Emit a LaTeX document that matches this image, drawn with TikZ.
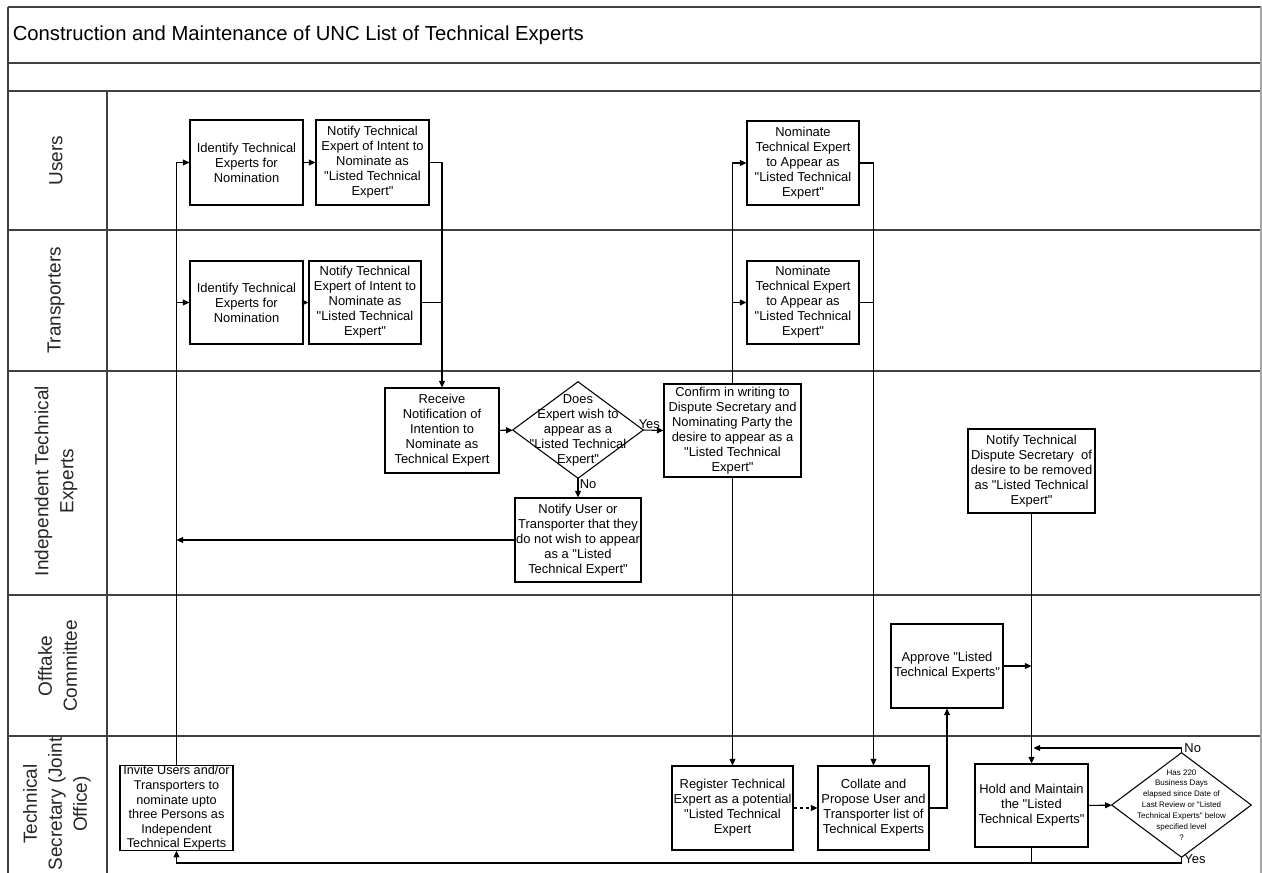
\documentclass[tikz,border=0pt]{standalone}
\usepackage{fontspec}
\setmainfont{Liberation Sans}[Ligatures=TeXOff]
\usetikzlibrary{arrows.meta,calc}
\begin{document}
\begin{tikzpicture}[x=0.75pt,y=-0.75pt,
  lane/.style={draw=black!75, line width=1.1pt},
  box/.style={draw=black, line width=0.8pt, fill=white, inner sep=0pt, align=center,
    font=\fontsize{9.7}{11.25}\selectfont},
  dnode/.style={inner sep=0pt, align=center, font=\fontsize{9.7}{11.25}\selectfont},
  dnodesmall/.style={inner sep=0pt, align=center, font=\fontsize{6}{8.2}\selectfont},
  conn/.style={draw=black, line width=0.8pt},
  arr/.style={conn, -{Triangle[length=5pt,width=4.5pt]}},
  lbl/.style={inner sep=1pt, font=\fontsize{9.7}{11.25}\selectfont},
  lanelabel/.style={rotate=90, align=center, inner sep=0pt, text=black!85,
    font=\fontsize{14.25}{18.75}\selectfont},
  sz/.style 2 args={minimum width=#1*0.75pt, minimum height=#2*0.75pt}
]
\useasboundingbox (0,0) rectangle (1262,873);
\fill[white] (0,0) rectangle (1262,873);

% frame and lanes
\draw[lane] (8,7) -- (1261,7);
\draw[lane] (8,63) -- (1261,63);
\draw[lane] (8,91) -- (1261,91);
\draw[lane] (8,230) -- (1261,230);
\draw[lane] (8,371) -- (1261,371);
\draw[lane] (8,595) -- (1261,595);
\draw[lane] (8,736) -- (1261,736);
\draw[lane] (8,7) -- (8,873);
\draw[lane] (107,91) -- (107,873);
\draw[draw=black!35, line width=1pt] (1261,7) -- (1261,873);

\node[anchor=west, inner sep=0pt, font=\fontsize{15.2}{18}\selectfont] (title) at (12.5,35)
  {Construction and Maintenance of UNC List of Technical Experts};

\node[lanelabel] (lUsers) at (56,160.5) {Users};
\node[lanelabel] (lTrans) at (56,300.5) {Transporters};
\node[lanelabel] (lITE) at (56,481) {Independent Technical\\Experts};
\node[lanelabel] (lOff) at (57.5,666) {Offtake\\Committee};
\node[lanelabel] (lTS) at (57,804) {Technical\\Secretary (Joint\\Office)};

% boxes
\node[box, sz={113}{85}] (U1) at (246.5,162.5) {Identify Technical\\Experts for\\Nomination};
\node[box, sz={113}{85}] (U2) at (372.5,162.5) {Notify Technical\\Expert of Intent to\\Nominate as\\"Listed Technical\\Expert"};
\node[box, sz={113}{83}] (T1) at (246.5,302.5) {Identify Technical\\Experts for\\Nomination};
\node[box, sz={112}{83}] (T2) at (365,302.5) {Notify Technical\\Expert of Intent to\\Nominate as\\"Listed Technical\\Expert"};
\node[box, sz={112}{84}] (NU) at (803,163) {Nominate\\Technical Expert\\to Appear as\\"Listed Technical\\Expert"};
\node[box, sz={112}{83}] (NT) at (803,302.5) {Nominate\\Technical Expert\\to Appear as\\"Listed Technical\\Expert"};
\node[box, sz={114}{85}] (Rec) at (442,430.5) {Receive\\Notification of\\Intention to\\Nominate as\\Technical Expert};
\node[dnode, sz={130}{96}] (D1) at (578,430) {Does\\Expert wish to\\appear as a\\"Listed Technical\\Expert"};
\draw[conn] (D1.north) -- (D1.east) -- (D1.south) -- (D1.west) -- cycle;
\node[box, sz={126}{84}] (NUT) at (578,540) {Notify User or\\Transporter that they\\do not wish to appear\\as a "Listed\\Technical Expert"};
\node[box, sz={137}{93}] (Conf) at (732.5,430.5) {Confirm in writing to\\Dispute Secretary and\\Nominating Party the\\desire to appear as a\\"Listed Technical\\Expert"};
\node[box, sz={127}{84}] (Rem) at (1031.5,471) {Notify Technical\\Dispute Secretary\ \ of\\desire to be removed\\as "Listed Technical\\Expert"};
\node[box, sz={112}{84}] (App) at (947,666) {Approve "Listed\\Technical Experts"};
\node[box, sz={113}{84}, font=\fontsize{9.5}{10.9}\selectfont] (Inv) at (176.5,808) {Invite Users and/or\\Transporters to\\nominate upto\\three Persons as\\Independent\\Technical Experts};
\node[box, sz={121}{84}] (Reg) at (732.5,808) {Register Technical\\Expert as a potential\\"Listed Technical\\Expert};
\node[box, sz={111}{84}] (Col) at (873.5,808) {Collate and\\Propose User and\\Transporter list of\\Technical Experts};
\node[box, sz={113}{83}] (Hold) at (1031.5,805.5) {Hold and Maintain\\the "Listed\\Technical Experts"};
\node[dnodesmall, sz={139}{104}] (D2) at (1181.5,805) {Has 220\\Business Days\\elapsed since Date of\\Last Review or "Listed\\Technical Experts" below\\specified level\\?};
\draw[conn] (D2.north) -- (D2.east) -- (D2.south) -- (D2.west) -- cycle;

% connectors
\draw[arr] (Inv.north) |- (U1.west);
\draw[arr] (Inv.north |- T1.west) -- (T1.west);
\draw[arr] (U1) -- (U2);
\draw[arr] (T1) -- (T2);
\draw[arr] (U2.east) -| (Rec.north);
\draw[conn] (T2.east) -- (Rec.north |- T2.east);
\draw[arr] (Rec) -- (D1);
\draw[arr] (D1.east) -- node[lbl, above, pos=0.3] {Yes} (Conf.west);
\draw[arr] (D1.south) -- node[lbl, right, pos=0.3] {No} (NUT.north);
\draw[arr] (NUT.west) -- (Inv.north |- NUT.west);
\draw[arr] (Conf.north) |- (NU.west);
\draw[arr] (Conf.north |- NT.west) -- (NT.west);
\draw[arr] (Conf.south) -- (Reg.north);
\draw[arr] (NU.east) -| (Col.north);
\draw[conn] (NT.east) -- (Col.north |- NT.east);
\draw[arr, dash pattern=on 2.5pt off 2pt] (Reg) -- (Col);
\draw[arr] (Col.east) -| (App.south);
\draw[arr] (Rem.south) -- (Hold.north);
\draw[arr] (App.east) -- (Hold.north |- App.east);
\draw[arr] (Hold) -- (D2);
\coordinate (noC) at (D2.north |- 0,748);
\draw[arr] (D2.north) -- (noC) -- ($(Hold.north |- noC)+(2,0)$);
\node[lbl, anchor=west] (noL) at ([xshift=1pt]noC) {No};
\coordinate (yesC) at (D2.south |- 0,863);
\draw[arr] (D2.south) -- (yesC) -- (Inv.south |- yesC) -- (Inv.south);
\node[lbl, anchor=west] (yesL) at ([xshift=1pt,yshift=3pt]yesC) {Yes};
\draw[conn] (Hold.south) -- (Hold.south |- yesC);
\end{tikzpicture}
\end{document}
